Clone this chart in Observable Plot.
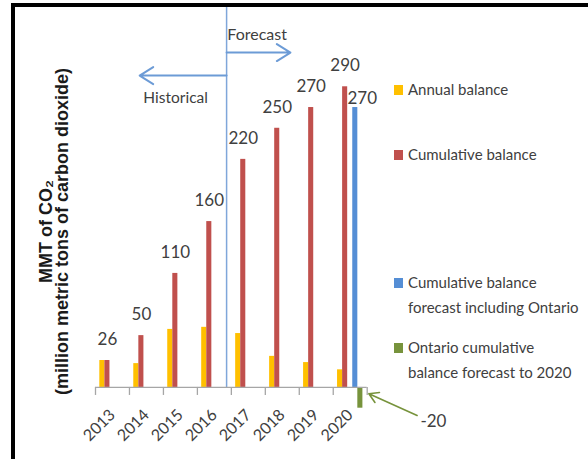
<!DOCTYPE html>
<html>
<head>
<meta charset="utf-8">
<script src="https://cdn.jsdelivr.net/npm/d3@7"></script>
<script src="https://cdn.jsdelivr.net/npm/@observablehq/plot@0.6"></script>
<style>
  html, body { margin: 0; padding: 0; background: #fff; overflow: hidden; }
  body { width: 588px; height: 459px; position: relative; font-family: Lato, "Open Sans", sans-serif; }
  #box { position: absolute; left: 11px; top: 3px; width: 700px; height: 600px;
         border-left: 4px solid #000; border-top: 4px solid #000; z-index: 2; pointer-events: none; }
  #chart { position: absolute; left: 0; top: 0; }
  .legend { position: absolute; left: 394px; color: #404040; font-size: 15px; line-height: 25px; z-index: 3; }
  .legend .sw { position: absolute; left: 0; top: 8px; width: 9px; height: 10px; }
  .legend .lb { position: absolute; left: 14px; top: 0; white-space: nowrap; }
</style>
</head>
<body>
<div id="box"></div>
<div id="chart"></div>
<script>
// Emission balance by year (MMT of CO2)
const years = [2013, 2014, 2015, 2016, 2017, 2018, 2019, 2020];
const annualBalance = [26, 23, 56, 58, 52, 30, 24, 17];
const cumulativeBalance = [26, 50, 110, 160, 220, 250, 270, 290];
const forecastYears = [2020];
const forecastWithOntario = [270];
const ontarioBalance = [-20];

const seriesNames = [
  "Annual balance",
  "Cumulative balance",
  "Cumulative balance\nforecast including Ontario",
  "Ontario cumulative\nbalance forecast to 2020"
];
const seriesColors = ["#FFC000", "#C0504D", "#558ED5", "#77933C"];

// Annotation text
const forecastLabel = "Forecast";
const historicalLabel = "Historical";
const axisTitle = "MMT of CO\u2082\n(million metric tons of carbon dioxide)";

// Long-format rows for the bars
const rows = [
  ...years.map((year, i) => ({year, series: seriesNames[0], value: annualBalance[i]})),
  ...years.map((year, i) => ({year, series: seriesNames[1], value: cumulativeBalance[i]})),
  ...forecastYears.map((year, i) => ({year, series: seriesNames[2], value: forecastWithOntario[i]})),
  ...forecastYears.map((year, i) => ({year, series: seriesNames[3], value: ontarioBalance[i]}))
];

// Position of each series inside its year: five slots, the middle one left empty
const slot = d3.scaleBand([seriesNames[0], seriesNames[1], "", seriesNames[2], seriesNames[3]], [-0.5, 0.5])
  .paddingInner(0).paddingOuter(0.85);
const left = d => d.year + slot(d.series);
const right = d => d.year + slot(d.series) + slot.bandwidth();
const mid = d => d.year + slot(d.series) + slot.bandwidth() / 2;

const boundaries = years.map(y => y - 0.5).concat([years[years.length - 1] + 0.5]);
const split = 2016.36; // boundary between historical and forecast years

const labelColor = "#404040";
const font = `Lato, "Open Sans", sans-serif`;

const chart = Plot.plot({
  width: 588,
  height: 459,
  marginLeft: 95,
  marginRight: 221.3,
  marginTop: 3.35,
  marginBottom: 51.3,
  style: {fontFamily: font, fontSize: "16px", color: labelColor, background: "transparent"},
  x: {domain: [2012.5, 2020.5], ticks: years, tickFormat: d => String(d), tickRotate: -45, tickSize: 0, tickPadding: 4, label: null},
  y: {domain: [-20, 370], axis: null},
  color: {domain: seriesNames, range: seriesColors},
  marks: [
    // historical / forecast split
    Plot.ruleX([split], {y1: 0, y2: 370, stroke: "#7FA6DA", strokeWidth: 1.5}),
    Plot.arrow([{x1: split, x2: 2018.24, y: 323}], {x1: "x1", x2: "x2", y1: "y", y2: "y", stroke: "#6C9BD6", strokeWidth: 2, headLength: 12, headAngle: 64}),
    Plot.arrow([{x1: split, x2: 2013.8, y: 300.8}], {x1: "x1", x2: "x2", y1: "y", y2: "y", stroke: "#6C9BD6", strokeWidth: 2, headLength: 12, headAngle: 64}),
    Plot.text([forecastLabel], {x: 2017.26, y: 340, text: d => d, fontSize: 16, fill: labelColor}),
    Plot.text([historicalLabel], {x: 2014.86, y: 279, text: d => d, fontSize: 15.5, fill: labelColor}),
    // bars
    Plot.rectY(rows, {x1: left, x2: right, y1: 0, y2: "value", fill: "series"}),
    // category axis line and boundary ticks
    Plot.ruleY([0], {x1: boundaries[0], x2: boundaries[boundaries.length - 1], stroke: "#A6A6A6", strokeWidth: 1.3}),
    Plot.ruleX(boundaries, {y1: 0, y2: -7.7, stroke: "#A6A6A6", strokeWidth: 1.3}),
    // value labels
    Plot.text(rows.filter(d => d.series === seriesNames[1]), {x: mid, y: "value", text: d => String(d.value), dy: -21, fontSize: 17, fill: labelColor}),
    Plot.text(rows.filter(d => d.series === seriesNames[2]), {x: mid, y: "value", text: d => String(d.value), dx: 7, dy: -9, fontSize: 17, fill: labelColor}),
    // Ontario callout
    Plot.arrow([{x1: 2021.97, y1: -27, x2: 2020.55, y2: -6}], {x1: "x1", y1: "y1", x2: "x2", y2: "y2", stroke: "#77933C", strokeWidth: 1.6, headLength: 10, headAngle: 62}),
    Plot.text(rows.filter(d => d.series === seriesNames[3]), {x: 2022.45, y: -33.3, text: d => String(d.value), fontSize: 17, fill: labelColor}),
    // value axis title
    Plot.text([axisTitle], {
      frameAnchor: "left", text: d => d, rotate: -90, dx: -41, dy: 25.5,
      textAnchor: "middle", lineAnchor: "middle",
      fontSize: 18, fontWeight: "bold", lineHeight: 0.9, fill: "#1a1a1a",
      fontFamily: `"Liberation Sans", Arial, sans-serif`
    })
  ]
});
document.getElementById("chart").appendChild(chart);

// legend
const legendTops = [77, 142, 270, 335];
seriesNames.forEach((name, i) => {
  const item = document.createElement("div");
  item.className = "legend";
  item.style.top = legendTops[i] + "px";
  const sw = document.createElement("div");
  sw.className = "sw";
  sw.style.background = seriesColors[i];
  const lb = document.createElement("div");
  lb.className = "lb";
  lb.innerHTML = name.split("\n").map(s => s.replace(/&/g, "&amp;")).join("<br>");
  item.append(sw, lb);
  document.body.appendChild(item);
});
</script>
</body>
</html>
